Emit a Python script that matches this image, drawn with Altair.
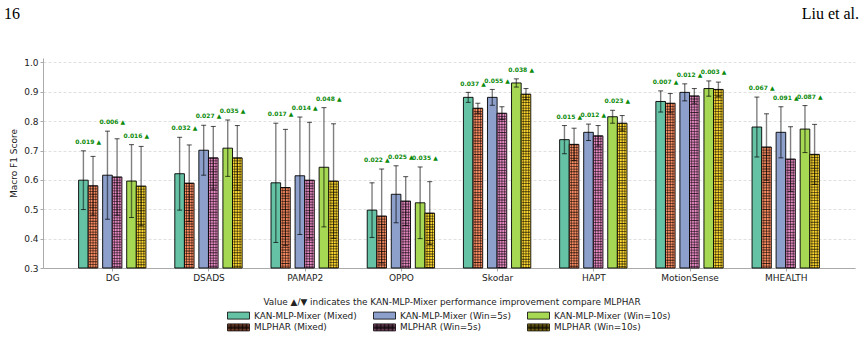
import altair as alt
import pandas as pd

# ---------------- data ----------------
datasets = ["DG", "DSADS", "PAMAP2", "OPPO", "Skodar", "HAPT", "MotionSense", "MHEALTH"]

series_names = [
    "KAN-MLP-Mixer (Mixed)", "MLPHAR (Mixed)",
    "KAN-MLP-Mixer (Win=5s)", "MLPHAR (Win=5s)",
    "KAN-MLP-Mixer (Win=10s)", "MLPHAR (Win=10s)",
]

kan_mixed = [0.599, 0.621, 0.590, 0.497, 0.881, 0.737, 0.867, 0.780]
mlp_mixed = [0.580, 0.589, 0.574, 0.477, 0.844, 0.721, 0.861, 0.712]
kan_5s = [0.616, 0.701, 0.614, 0.551, 0.881, 0.762, 0.898, 0.762]
mlp_5s = [0.610, 0.675, 0.599, 0.528, 0.827, 0.750, 0.886, 0.671]
kan_10s = [0.596, 0.708, 0.643, 0.522, 0.930, 0.815, 0.911, 0.773]
mlp_10s = [0.579, 0.675, 0.596, 0.487, 0.892, 0.793, 0.908, 0.687]

kan_mixed_err = [0.100, 0.124, 0.203, 0.093, 0.017, 0.048, 0.036, 0.102]
mlp_mixed_err = [0.100, 0.130, 0.198, 0.160, 0.017, 0.055, 0.033, 0.113]
kan_5s_err = [0.150, 0.085, 0.200, 0.097, 0.027, 0.028, 0.029, 0.087]
mlp_5s_err = [0.130, 0.107, 0.197, 0.083, 0.022, 0.035, 0.025, 0.110]
kan_10s_err = [0.124, 0.096, 0.203, 0.122, 0.014, 0.022, 0.026, 0.080]
mlp_10s_err = [0.135, 0.110, 0.195, 0.107, 0.019, 0.026, 0.025, 0.102]

imp_mixed = ["0.019", "0.032", "0.017", "0.022", "0.037", "0.015", "0.007", "0.067"]
imp_5s = ["0.006", "0.027", "0.014", "0.025", "0.055", "0.012", "0.012", "0.091"]
imp_10s = ["0.016", "0.035", "0.048", "0.035", "0.038", "0.023", "0.003", "0.087"]

legend_title = "Value \u25B2/\u25BC indicates the KAN-MLP-Mixer performance improvement compare MLPHAR"
page_number = "16"
page_author = "Liu et al."

# ---------------- layout / style constants ----------------
means = [kan_mixed, mlp_mixed, kan_5s, mlp_5s, kan_10s, mlp_10s]
errs = [kan_mixed_err, mlp_mixed_err, kan_5s_err, mlp_5s_err, kan_10s_err, mlp_10s_err]
imps = [imp_mixed, imp_5s, imp_10s]
offsets = [-0.3, -0.2, -0.05, 0.05, 0.2, 0.3]
pair_centers = [-0.25, 0.0, 0.25]
half_w = 0.05

colors = ["#66c2a5", "#fc8d62", "#8da0cb", "#e78ac3", "#a6d854", "#ffd92f"]
legend_order = [series_names[i] for i in (0, 2, 4, 1, 3, 5)]
legend_colors = [colors[i] for i in (0, 2, 4, 1, 3, 5)]

plain_rect = "M-2.2,-0.7H2.2V0.7H-2.2Z"
grid_lines = "".join(f"M{v:.2f},-0.7V0.7" for v in [-1.9 + 0.27 * k for k in range(15)])
grid_lines += "".join(f"M-2.2,{v:.2f}H2.2" for v in (-0.27, 0.0, 0.27))
hatch_rect = plain_rect + grid_lines
legend_shapes = [plain_rect] * 3 + [hatch_rect] * 3

rows = []
for s_i, s in enumerate(series_names):
    for d_i, d in enumerate(datasets):
        m = means[s_i][d_i]
        e = errs[s_i][d_i]
        rows.append(dict(dataset=d, series=s, mean=m, lo=m - e, hi=m + e,
                         pos=d_i + offsets[s_i],
                         x0=d_i + offsets[s_i] - half_w,
                         x1=d_i + offsets[s_i] + half_w,
                         mlp=s.startswith("MLPHAR")))
df = pd.DataFrame(rows)

ann_rows = []
for p in range(3):
    for d_i, d in enumerate(datasets):
        top = max(means[2 * p][d_i] + errs[2 * p][d_i], means[2 * p + 1][d_i] + errs[2 * p + 1][d_i])
        ann_rows.append(dict(pos=d_i + pair_centers[p], y=top + 0.03, label=imps[p][d_i] + " \u25B2"))
ann = pd.DataFrame(ann_rows)

FONT = "DejaVu Sans"
xscale = alt.Scale(domain=[-0.72, 7.72], nice=False, zero=False)
yscale = alt.Scale(domain=[0.3, 1.015], nice=False, zero=False)
label_expr = "[" + ",".join(f"'{d}'" for d in datasets) + "][round(datum.value)]"
xaxis = alt.Axis(values=list(range(len(datasets))), labelExpr=label_expr, title=None, grid=False,
                 tickSize=3, labelFontSize=9, labelPadding=2, domainColor="#aaaaaa", tickColor="#aaaaaa",
                 labelColor="#222222", labelFont=FONT)
yaxis = alt.Axis(values=[0.3, 0.4, 0.5, 0.6, 0.7, 0.8, 0.9, 1.0], format=".1f", title="Macro F1 Score",
                 grid=True, gridDash=[3, 2], gridColor="#d8d8d8", gridWidth=0.8,
                 tickSize=3, labelFontSize=9, labelPadding=2, domainColor="#aaaaaa", tickColor="#aaaaaa",
                 labelColor="#222222", titleFontSize=9, titleFontWeight="normal", titleColor="#222222",
                 titlePadding=5, labelFont=FONT, titleFont=FONT)


def X(f):
    return alt.X(f, type="quantitative", scale=xscale, axis=xaxis)


def Y(f):
    return alt.Y(f, type="quantitative", scale=yscale, axis=yaxis)


leg = alt.Legend(title=legend_title, orient="none", legendX=190, legendY=240, direction="horizontal",
                 columns=3, columnPadding=14, rowPadding=1, symbolSize=100, labelOffset=10,
                 symbolStrokeColor="black", symbolStrokeWidth=0.8, labelFontSize=8.9, titleFontSize=8.9,
                 titleFontWeight="normal", titleAnchor="middle", titleAlign="center", titlePadding=3,
                 labelFont=FONT, titleFont=FONT, labelColor="#222222", titleColor="#222222",
                 labelLimit=400, titleLimit=700)

color = alt.Color("series:N", scale=alt.Scale(domain=legend_order, range=legend_colors), legend=leg)
shape = alt.Shape("series:N", scale=alt.Scale(domain=legend_order, range=legend_shapes), legend=leg)

base = alt.Chart(df)

legend_pts = base.mark_point(filled=True, size=100, clip=True, opacity=1).encode(
    x=X("pos"), y=alt.value(400), color=color, shape=shape)

bars = base.mark_bar(stroke="black", strokeWidth=1, strokeOpacity=0.9).encode(
    x=X("x0"), x2="x1:Q", y=Y("mean"), y2=alt.datum(0.3), color=color)

mlp = base.transform_filter("datum.mlp")
hatch_h = mlp.mark_rule(color="black", strokeWidth=8.2, strokeDash=[0.8, 1.9], opacity=0.7).encode(
    x=X("pos"), y=Y("mean"), y2=alt.datum(0.3))
hatch_v = [mlp.mark_rule(color="black", strokeWidth=0.75, xOffset=o, opacity=0.7).encode(
    x=X("pos"), y=Y("mean"), y2=alt.datum(0.3)) for o in (-2.7, 0, 2.7)]

err_line = base.mark_rule(color="black", opacity=0.5, strokeWidth=1.4).encode(
    x=X("pos"), y=Y("lo"), y2="hi:Q")
cap_hi = base.mark_tick(orient="horizontal", color="black", size=5, thickness=1).encode(x=X("pos"), y=Y("hi"))
cap_lo = base.mark_tick(orient="horizontal", color="black", size=5, thickness=1).encode(x=X("pos"), y=Y("lo"))

ann_text = alt.Chart(ann).mark_text(color="#0a8a0a", fontWeight="bold", fontSize=6, font=FONT,
                                    baseline="middle", align="center").encode(
    x=X("pos"), y=Y("y"), text="label:N")

hdr_left = alt.Chart(pd.DataFrame({"t": [page_number]})).mark_text(
    font="Liberation Serif", fontSize=16, align="left", baseline="alphabetic", color="black").encode(
    x=alt.value(-39), y=alt.value(-39), text="t:N")
hdr_right = alt.Chart(pd.DataFrame({"t": [page_author]})).mark_text(
    font="Liberation Serif", fontSize=16, align="right", baseline="alphabetic", color="black").encode(
    x=alt.value(816), y=alt.value(-39), text="t:N")

chart = alt.layer(legend_pts, bars, hatch_h, *hatch_v, err_line, cap_hi, cap_lo, ann_text,
                  hdr_left, hdr_right).properties(
    width=812, height=210,
    padding={"left": 43, "top": 58, "right": 13, "bottom": 70},
    autosize=alt.AutoSizeParams(type="none"),
    background="white",
).configure_view(stroke=None)

chart.save("out.html", embed_options={"renderer": "svg", "actions": False})
